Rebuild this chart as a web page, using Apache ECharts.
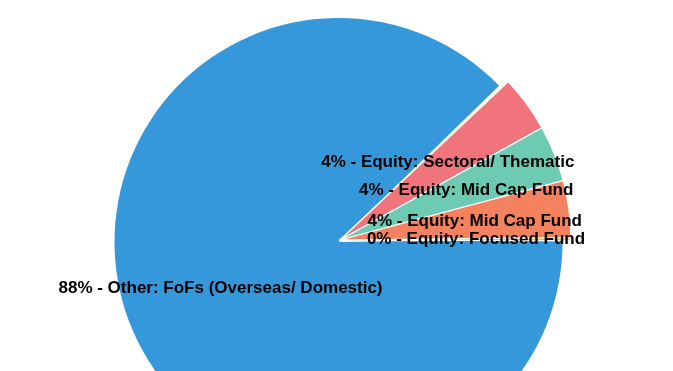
<!DOCTYPE html>
<html>
<head>
<meta charset="utf-8">
<script src="https://cdn.jsdelivr.net/npm/echarts@6/dist/echarts.min.js"></script>
<style>html,body{margin:0;padding:0;background:#fff;}#c{width:673px;height:371px;}</style>
</head>
<body>
<div id="c"></div>
<script>
// Data
var categories = ['Equity: Sectoral/ Thematic', 'Equity: Mid Cap Fund', 'Equity: Mid Cap Fund', 'Equity: Focused Fund', 'Other: FoFs (Overseas/ Domestic)'];
var values = [3.96, 3.93, 3.97, 0.22, 87.92];
var palette = ['#f1737b', '#6dcab3', '#f4825f', '#f8c61e', '#3598db'];

var chart = echarts.init(document.getElementById('c'), null, {renderer: 'canvas'});
var last = categories.length - 1;

function build(colorFn, extraFn) {
  return categories.map(function (name, i) {
    var d = {name: name, value: values[i], itemStyle: {color: colorFn(i)}};
    if (extraFn) extraFn(d, i);
    return d;
  });
}

chart.setOption({
  animation: false,
  series: [
    { // big slice
      type: 'pie', z: 1, silent: true,
      center: [338.5, 242], radius: [0, 224],
      startAngle: 44.2, clockwise: true,
      label: {show: false}, labelLine: {show: false},
      emphasis: {disabled: true},
      itemStyle: {borderWidth: 0},
      data: build(function (i) { return i === last ? palette[i] : 'rgba(0,0,0,0)'; })
    },
    { // small slices
      type: 'pie', z: 2, silent: true,
      center: [340, 240], radius: [0, 231],
      startAngle: 43.3, clockwise: true,
      label: {show: false}, labelLine: {show: false},
      emphasis: {disabled: true},
      itemStyle: {borderColor: '#fff', borderWidth: 1.2},
      data: build(function (i) { return i === last ? 'rgba(0,0,0,0)' : palette[i]; })
    },
    { // labels
      type: 'pie', z: 3, silent: true,
      center: [340, 240], radius: [0, 266],
      startAngle: 43.3, clockwise: true,
      labelLine: {show: false},
      labelLayout: {hideOverlap: false},
      emphasis: {disabled: true},
      itemStyle: {color: 'rgba(0,0,0,0)', borderWidth: 0},
      label: {
        show: true, position: 'inside',
        fontFamily: 'Liberation Sans, Arial, sans-serif',
        fontSize: 17, fontWeight: 'bold', color: '#000',
        formatter: function (p) { return Math.round(p.percent) + '% - ' + p.name; }
      },
      data: build(function () { return 'rgba(0,0,0,0)'; }, function (d, i) {
        if (i === last) d.label = {offset: [7, -2]};
        if (i === 0) d.label = {offset: [-2, 3]};
        if (i === 1) d.label = {offset: [0, 1]};
      })
    }
  ]
});
</script>
</body>
</html>
